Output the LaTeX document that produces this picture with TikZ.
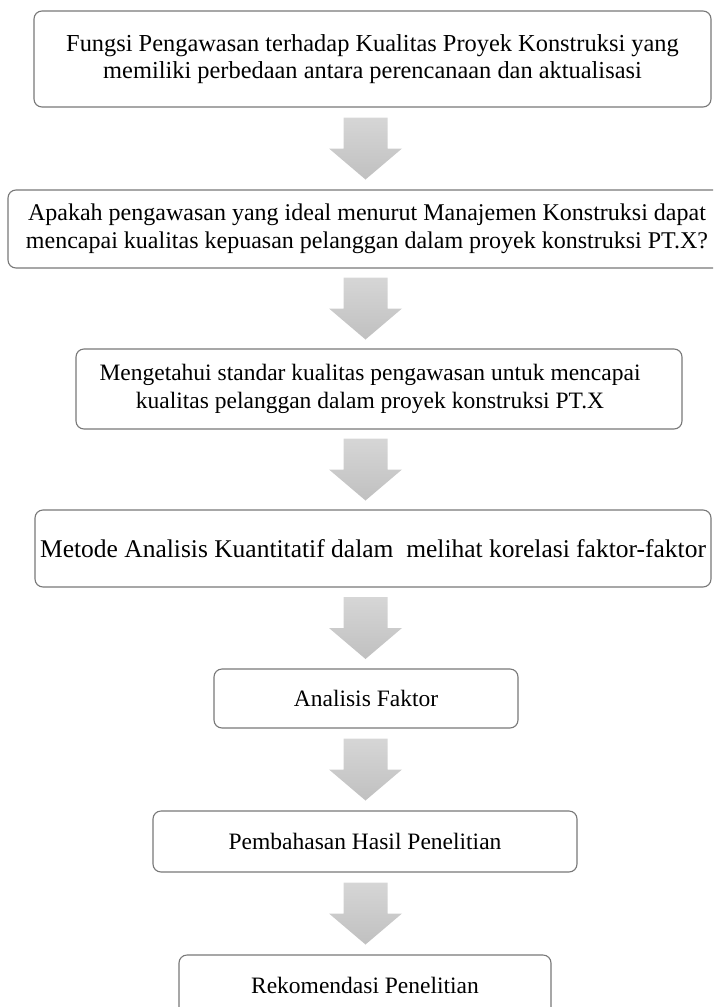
\documentclass[tikz,border=0pt]{standalone}
\usepackage{fontspec}
\setmainfont{Liberation Serif}
\usetikzlibrary{calc}
\definecolor{boxline}{RGB}{120,120,120}
\definecolor{arrtop}{RGB}{214,214,214}
\definecolor{arrbot}{RGB}{192,192,192}
\begin{document}
\begin{tikzpicture}[x=1pt,y=-1pt,
  box/.style={draw=boxline, line width=1.1pt, rounded corners=8pt, align=center,
    inner sep=0pt, font=\fontsize{23.5}{27.5}\selectfont},
  big/.style={font=\fontsize{24.4}{27}\selectfont},
  bigger/.style={font=\fontsize{25.5}{28}\selectfont},
  barrow/.pic={\shade[top color=arrtop, bottom color=arrbot]
    (-22,-31) -- (22,-31) -- (22,0) -- (36.5,0) -- (0,31) -- (-36.5,0) -- (-22,0) -- cycle;}
]
\path[use as bounding box] (0,0) rectangle (713,1007);
\clip (0,0) rectangle (713,1007);
\coordinate (ax) at (365.5,0);

\node[box, big, minimum width=677pt, minimum height=96pt] (b1) at (372.5,59)
  {Fungsi Pengawasan terhadap Kualitas Proyek Konstruksi yang\\memiliki perbedaan antara perencanaan dan aktualisasi};
\node[box, font=\fontsize{24}{28}\selectfont, minimum width=718pt, minimum height=78pt] (b2) at (367,229)
  {Apakah pengawasan yang ideal menurut Manajemen Konstruksi dapat\\mencapai kualitas kepuasan pelanggan dalam proyek konstruksi PT.X?};
\node[box, minimum width=606pt, minimum height=80pt] (b3) at (379,389)
  {\hspace*{-18pt}Mengetahui standar kualitas pengawasan untuk mencapai\\\hspace*{-18pt}kualitas pelanggan dalam proyek konstruksi PT.X};
\node[box, bigger, minimum width=676pt, minimum height=77pt] (b4) at (373,548.5)
  {Metode Analisis Kuantitatif dalam\ \ melihat korelasi faktor-faktor};
\node[box, minimum width=304pt, minimum height=59pt] (b5) at (366,698.5)
  {Analisis Faktor};
\node[box, minimum width=424pt, minimum height=61pt] (b6) at (365,841.5)
  {Pembahasan Hasil Penelitian};
\node[box, minimum width=372pt, minimum height=60pt] (b7) at (365,985)
  {Rekomendasi Penelitian};

\coordinate (m12) at ($(b1.south)!0.5!(b2.north)$);
\coordinate (m23) at ($(b2.south)!0.5!(b3.north)$);
\coordinate (m34) at ($(b3.south)!0.5!(b4.north)$);
\coordinate (m45) at ($(b4.south)!0.5!(b5.north)$);
\coordinate (m56) at ($(b5.south)!0.5!(b6.north)$);
\coordinate (m67) at ($(b6.south)!0.5!(b7.north)$);
\pic at (m12 -| ax) {barrow};
\pic at (m23 -| ax) {barrow};
\pic at (m34 -| ax) {barrow};
\pic at (m45 -| ax) {barrow};
\pic at (m56 -| ax) {barrow};
\pic at (m67 -| ax) {barrow};
\end{tikzpicture}
\end{document}
